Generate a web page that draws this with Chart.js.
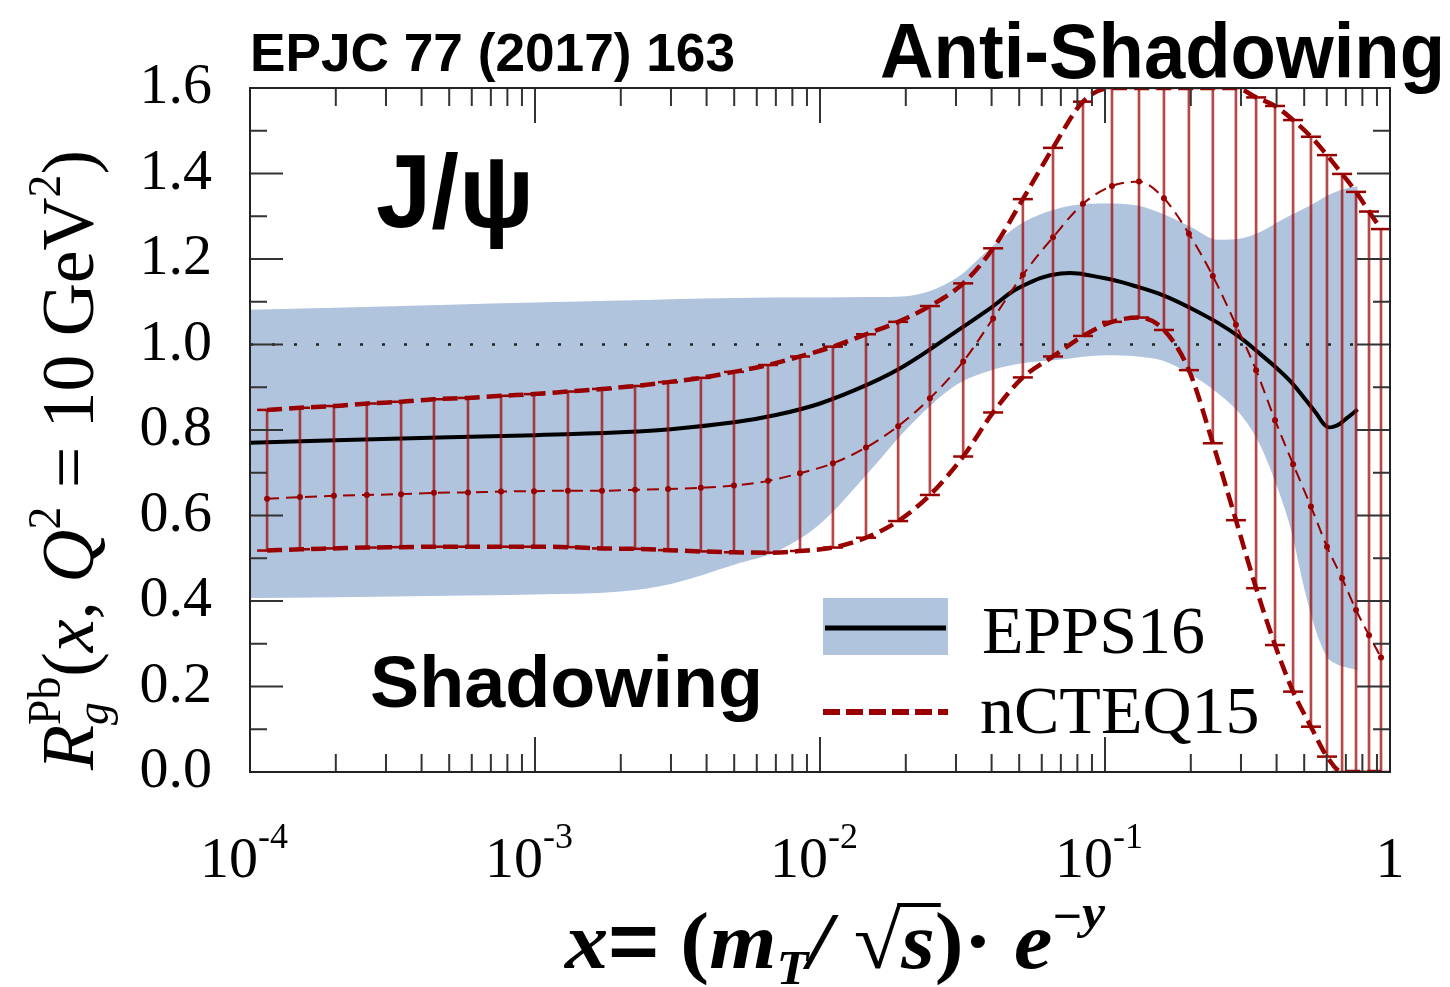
<!DOCTYPE html>
<html>
<head>
<meta charset="utf-8">
<script src="https://cdn.jsdelivr.net/npm/chart.js@4.4.0/dist/chart.umd.min.js"></script>
<style>
  body { margin: 0; background: #fff; }
</style>
</head>
<body>
<canvas id="rgChart" width="1450" height="987"></canvas>
<script>
// EPPS16 band + central value
const eppsX = [1e-4, 2e-4, 5e-4, 1e-3, 2e-3, 3e-3, 5e-3, 7e-3, 1e-2, 1.5e-2, 2e-2, 3e-2, 4e-2, 5e-2, 7e-2,
  0.1, 0.13, 0.16, 0.2, 0.25, 0.3, 0.35, 0.4, 0.45, 0.5, 0.55, 0.6, 0.65, 0.7, 0.77];
const eppsCentral = [0.770, 0.776, 0.783, 0.788, 0.795, 0.802, 0.818, 0.835, 0.862, 0.909, 0.952, 1.030, 1.087, 1.133, 1.166,
  1.155, 1.135, 1.115, 1.085, 1.050, 1.015, 0.978, 0.945, 0.912, 0.875, 0.840, 0.808, 0.810, 0.826, 0.848];
const eppsUpper = [1.081, 1.086, 1.093, 1.098, 1.103, 1.106, 1.109, 1.110, 1.110, 1.111, 1.113, 1.155, 1.228, 1.280, 1.320,
  1.330, 1.325, 1.305, 1.275, 1.245, 1.248, 1.263, 1.285, 1.303, 1.318, 1.333, 1.348, 1.358, 1.365, 1.370];
const eppsLower = [0.407, 0.409, 0.412, 0.415, 0.422, 0.440, 0.485, 0.515, 0.580, 0.705, 0.800, 0.905, 0.940, 0.955, 0.965,
  0.975, 0.972, 0.962, 0.930, 0.885, 0.835, 0.765, 0.670, 0.565, 0.430, 0.330, 0.270, 0.252, 0.245, 0.238];

// nCTEQ15 grid points with error bars
const cteqX = [1.148e-4, 1.497e-4, 1.97e-4, 2.57e-4, 3.39e-4, 4.42e-4, 5.82e-4, 7.60e-4, 9.92e-4, 1.305e-3,
  1.718e-3, 2.244e-3, 2.93e-3, 3.82e-3, 4.99e-3, 6.57e-3, 8.51e-3, 1.11e-2, 1.45e-2, 1.88e-2,
  2.43e-2, 3.18e-2, 4.05e-2, 5.15e-2, 6.57e-2, 8.37e-2, 0.1058, 0.1316, 0.161, 0.197,
  0.239, 0.288, 0.339, 0.395, 0.457, 0.528, 0.601, 0.679, 0.760, 0.844, 0.930];
const cteqCentral = [0.639, 0.643, 0.646, 0.648, 0.650, 0.653, 0.654, 0.656, 0.657, 0.658,
  0.658, 0.660, 0.662, 0.665, 0.670, 0.681, 0.699, 0.722, 0.759, 0.809,
  0.874, 0.960, 1.061, 1.163, 1.251, 1.329, 1.371, 1.381, 1.342, 1.259,
  1.160, 1.046, 0.940, 0.823, 0.720, 0.621, 0.527, 0.453, 0.379, 0.320, 0.268];
const cteqUpper = [0.847, 0.852, 0.856, 0.862, 0.866, 0.872, 0.875, 0.880, 0.884, 0.890,
  0.896, 0.903, 0.912, 0.922, 0.936, 0.952, 0.972, 0.995, 1.024, 1.053,
  1.090, 1.143, 1.225, 1.340, 1.460, 1.568, 1.6, 1.6, 1.6, 1.6,
  1.6, 1.6, 1.578, 1.558, 1.525, 1.486, 1.443, 1.399, 1.357, 1.311, 1.270];
const cteqLower = [0.518, 0.521, 0.523, 0.525, 0.526, 0.527, 0.527, 0.527, 0.527, 0.526,
  0.523, 0.522, 0.519, 0.516, 0.514, 0.513, 0.517, 0.525, 0.548, 0.587,
  0.648, 0.738, 0.841, 0.923, 0.972, 1.020, 1.053, 1.063, 1.034, 0.940,
  0.769, 0.589, 0.430, 0.297, 0.188, 0.106, 0.036, 0, 0, 0, 0];

const refLineX = [1e-4, 0.75];
const refLineY = [1, 1];

const xDecades = [1e-4, 1e-3, 1e-2, 1e-1, 1];
const xDecadeBase = ['10', '10', '10', '10', '1'];
const xDecadeExp = ['-4', '-3', '-2', '-1', ''];

const darkRed = '#990000';
const bandBlue = 'rgb(176, 196, 222)';
const serif = '"Liberation Serif", "DejaVu Serif", serif';
const sans = '"Liberation Sans", Arial, sans-serif';

function pts(xs, ys) {
  return xs.map((x, i) => ({ x: x, y: ys[i] }));
}

// text squeezed/stretched to a given width
function fitText(ctx, text, x, y, width, font) {
  ctx.font = font;
  let w = ctx.measureText(text).width;
  ctx.save();
  ctx.translate(x, y);
  ctx.scale(width / w, 1);
  ctx.fillText(text, 0, 0);
  ctx.restore();
}

// pieces: {t, f, dy, noAdv}
function richWidth(ctx, pieces) {
  let w = 0;
  pieces.forEach(p => {
    ctx.font = p.f;
    if (!p.noAdv) w += ctx.measureText(p.t).width;
  });
  return w;
}

function drawRich(ctx, pieces, width) {
  let total = richWidth(ctx, pieces);
  let k = width / total;
  let cx = 0;
  let marks = {};
  ctx.save();
  ctx.scale(k, 1);
  pieces.forEach(p => {
    ctx.font = p.f;
    ctx.fillText(p.t, cx, p.dy || 0);
    let w = ctx.measureText(p.t).width;
    if (p.mark) marks[p.mark] = [cx, cx + w];
    if (!p.noAdv) cx += w;
  });
  ctx.restore();
  return { k: k, marks: marks };
}

const frameTicks = {
  id: 'frameTicks',
  afterDatasetsDraw(chart) {
    const { ctx, chartArea: a, scales: { x, y } } = chart;
    ctx.save();
    ctx.strokeStyle = '#333';
    ctx.lineWidth = 2;
    ctx.beginPath();
    // y ticks, both sides
    y.ticks.forEach(t => {
      let py = y.getPixelForValue(t.value);
      let len = Math.round(t.value * 10) % 2 === 0 ? 33 : 17;
      ctx.moveTo(a.left, py); ctx.lineTo(a.left + len, py);
      ctx.moveTo(a.right, py); ctx.lineTo(a.right - len, py);
    });
    // x ticks, top and bottom
    xDecades.forEach(d => {
      let px = x.getPixelForValue(d);
      ctx.moveTo(px, a.bottom); ctx.lineTo(px, a.bottom - 35);
      ctx.moveTo(px, a.top); ctx.lineTo(px, a.top + 35);
      if (d < 1) {
        for (let m = 2; m <= 9; m++) {
          let pm = x.getPixelForValue(m * d);
          ctx.moveTo(pm, a.bottom); ctx.lineTo(pm, a.bottom - 18);
          ctx.moveTo(pm, a.top); ctx.lineTo(pm, a.top + 18);
        }
      }
    });
    ctx.stroke();
    ctx.strokeStyle = '#222';
    ctx.strokeRect(a.left, a.top, a.right - a.left, a.bottom - a.top);
    ctx.restore();
  },
  afterDraw(chart) {
    const { ctx, chartArea: a, scales: { x } } = chart;
    ctx.save();
    ctx.fillStyle = '#000';
    ctx.textBaseline = 'alphabetic';
    ctx.textAlign = 'left';

    // x tick labels with exponents
    xDecades.forEach((d, i) => {
      let px = x.getPixelForValue(d);
      ctx.font = '58px ' + serif;
      let wb = ctx.measureText(xDecadeBase[i]).width;
      if (xDecadeExp[i] === '') {
        ctx.fillText(xDecadeBase[i], px - wb / 2, 877);
      } else {
        ctx.fillText(xDecadeBase[i], px + 8 - wb, 877);
        ctx.font = '36px ' + serif;
        ctx.fillText(xDecadeExp[i], px + 8, 848);
      }
    });

    // y axis title, rotated
    ctx.save();
    ctx.translate(93, 770);
    ctx.rotate(-Math.PI / 2);
    drawRich(ctx, [
      { t: 'R', f: 'italic 74px ' + serif },
      { t: 'g', f: 'italic 46px ' + serif, dy: 15, noAdv: true },
      { t: 'Pb', f: '46px ' + serif, dy: -33 },
      { t: '(', f: '74px ' + serif },
      { t: 'x', f: 'italic 74px ' + serif },
      { t: ', ', f: '74px ' + serif },
      { t: 'Q', f: 'italic 74px ' + serif },
      { t: '2', f: '46px ' + serif, dy: -33 },
      { t: ' = 10 ', f: '74px ' + serif },
      { t: 'GeV', f: '74px ' + serif },
      { t: '2', f: '46px ' + serif, dy: -33 },
      { t: ')', f: '74px ' + serif }
    ], 620);
    ctx.restore();

    // x axis title
    ctx.save();
    ctx.translate(565, 968);
    let bi = 'bold italic 80px ' + serif;
    let b = 'bold 80px ' + serif;
    let r = drawRich(ctx, [
      { t: 'x', f: bi },
      { t: '=', f: 'bold 80px ' + sans },
      { t: ' (', f: b },
      { t: 'm', f: bi },
      { t: 'T', f: 'bold italic 48px ' + serif, dy: 16 },
      { t: '/', f: bi },
      { t: ' \u221A', f: b },
      { t: 's', f: bi, mark: 's' },
      { t: ')', f: b },
      { t: '\u00B7 ', f: b },
      { t: 'e', f: bi },
      { t: '\u2212', f: 'bold 48px ' + serif, dy: -36 },
      { t: 'y', f: 'bold italic 48px ' + serif, dy: -40 }
    ], 540);
    let sm = r.marks.s;
    ctx.lineWidth = 4;
    ctx.strokeStyle = '#000';
    ctx.beginPath();
    ctx.moveTo(sm[0] * r.k - 4, -63);
    ctx.lineTo(sm[1] * r.k + 6, -63);
    ctx.stroke();
    ctx.restore();

    // annotations
    fitText(ctx, 'EPJC 77 (2017) 163', 250, 71, 485, 'bold 54px ' + sans);
    fitText(ctx, 'Anti-Shadowing', 880, 78, 565, 'bold 77px ' + sans);
    fitText(ctx, 'J/\u03C8', 376, 227, 158, 'bold 103px ' + sans);
    fitText(ctx, 'Shadowing', 370, 707, 393, 'bold 73px ' + sans);

    // legend
    ctx.fillStyle = bandBlue;
    ctx.fillRect(823, 598, 125, 57);
    ctx.strokeStyle = '#000';
    ctx.lineWidth = 5;
    ctx.beginPath();
    ctx.moveTo(825, 628); ctx.lineTo(946, 628);
    ctx.stroke();
    ctx.strokeStyle = darkRed;
    ctx.lineWidth = 6;
    ctx.setLineDash([17, 6]);
    ctx.beginPath();
    ctx.moveTo(823, 712); ctx.lineTo(948, 712);
    ctx.stroke();
    ctx.setLineDash([]);
    ctx.fillStyle = '#000';
    ctx.font = '68px ' + serif;
    ctx.fillText('EPPS16', 982, 653);
    ctx.fillText('nCTEQ15', 980, 733);
    ctx.restore();
  }
};

let ctx = document.getElementById('rgChart').getContext('2d');
let chart = new Chart(ctx, {
  type: 'line',
  data: {
    datasets: [
      {
        label: 'nCTEQ15 central',
        data: pts(cteqX, cteqCentral),
        borderColor: darkRed,
        borderWidth: 2,
        borderDash: [12, 7],
        pointRadius: 3,
        pointBackgroundColor: darkRed,
        pointBorderWidth: 0,
        cubicInterpolationMode: 'monotone',
        fill: false,
        order: 1
      },
      {
        label: 'nCTEQ15 upper',
        data: pts(cteqX, cteqUpper),
        borderColor: darkRed,
        borderWidth: 4.5,
        borderDash: [15, 7],
        pointStyle: 'line',
        pointRadius: 10,
        pointBorderWidth: 2.5,
        pointBorderColor: darkRed,
        cubicInterpolationMode: 'monotone',
        fill: false,
        order: 2
      },
      {
        label: 'nCTEQ15 lower',
        data: pts(cteqX, cteqLower),
        borderColor: darkRed,
        borderWidth: 4.5,
        borderDash: [15, 7],
        pointStyle: 'line',
        pointRadius: 10,
        pointBorderWidth: 2.5,
        pointBorderColor: darkRed,
        cubicInterpolationMode: 'monotone',
        fill: false,
        order: 2
      },
      {
        type: 'bar',
        label: 'nCTEQ15 errors',
        data: cteqX.map((x, i) => ({ x: x, y: [cteqLower[i], cteqUpper[i]] })),
        backgroundColor: 'rgba(160, 10, 10, 0.75)',
        borderWidth: 0,
        barThickness: 2,
        order: 3
      },
      {
        label: 'one',
        data: pts(refLineX, refLineY),
        borderColor: '#222',
        borderWidth: 2.5,
        borderDash: [3, 19],
        pointRadius: 0,
        fill: false,
        order: 4
      },
      {
        label: 'EPPS16',
        data: pts(eppsX, eppsCentral),
        borderColor: '#000',
        borderWidth: 4,
        pointRadius: 0,
        tension: 0.4,
        fill: false,
        order: 5
      },
      {
        label: 'EPPS16 upper',
        data: pts(eppsX, eppsUpper),
        borderWidth: 0,
        borderColor: 'rgba(0,0,0,0)',
        backgroundColor: bandBlue,
        pointRadius: 0,
        cubicInterpolationMode: 'monotone',
        fill: '+1',
        order: 6
      },
      {
        label: 'EPPS16 lower',
        data: pts(eppsX, eppsLower),
        borderWidth: 0,
        borderColor: 'rgba(0,0,0,0)',
        pointRadius: 0,
        cubicInterpolationMode: 'monotone',
        fill: false,
        order: 7
      }
    ]
  },
  options: {
    responsive: false,
    animation: false,
    devicePixelRatio: 1,
    layout: { padding: { top: 88, right: 60, left: 0, bottom: 0 } },
    plugins: { legend: { display: false }, tooltip: { enabled: false } },
    scales: {
      x: {
        type: 'logarithmic',
        min: 1e-4,
        max: 1,
        offset: false,
        ticks: { display: false },
        grid: { display: false, drawTicks: false, offset: false },
        border: { display: false },
        afterFit: s => { s.height = 215; }
      },
      y: {
        type: 'linear',
        min: 0,
        max: 1.6,
        ticks: {
          stepSize: 0.1,
          autoSkip: false,
          padding: 38,
          color: '#000',
          font: { family: 'Liberation Serif', size: 58 },
          callback: v => (Math.round(v * 10) % 2 === 0 ? v.toFixed(1) : '')
        },
        grid: { display: false, drawTicks: false },
        border: { display: false },
        afterFit: s => { s.width = 250; }
      }
    }
  },
  plugins: [frameTicks]
});
</script>
</body>
</html>
